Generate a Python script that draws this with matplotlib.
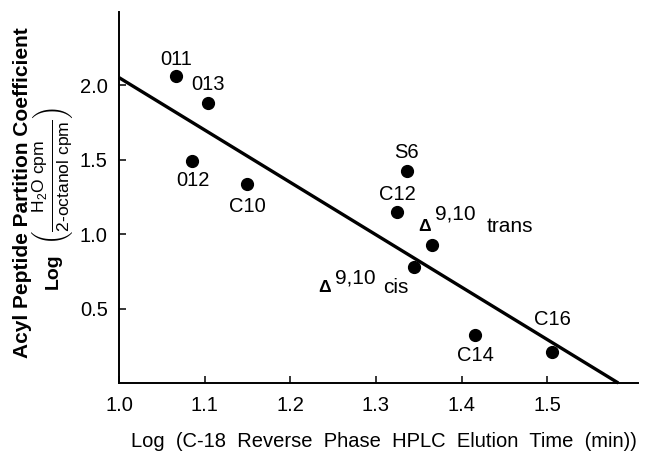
import matplotlib
matplotlib.use("Agg")
import matplotlib.pyplot as plt

# === Data ===
labels = ["011", "013", "012", "C10", "S6", "C12", "trans", "cis", "C14", "C16"]
log_elution = [1.067, 1.104, 1.085, 1.150, 1.336, 1.325, 1.365, 1.344, 1.416, 1.506]
log_partition = [2.060, 1.880, 1.493, 1.336, 1.423, 1.147, 0.928, 0.782, 0.323, 0.206]

fit_x = [1.0, 1.583]
fit_y = [2.05, 0.0]

x_ticks = [1.0, 1.1, 1.2, 1.3, 1.4, 1.5]
y_ticks = [0.5, 1.0, 1.5, 2.0]

# label offsets in pixels (dx, dy) from each point
offsets = {
    "011": (0, 17), "013": (0, 18), "012": (1, -20), "C10": (0, -23),
    "S6": (0, 18), "C12": (0, 18), "C14": (0, -21), "C16": (0, 33),
}
# delta labels: offsets of (delta, "9,10", suffix)
delta_offsets = {
    "trans": [(-7, 18), (24, 31), (78, 18)],
    "cis": [(-89, -21), (-58, -11), (-18, -21)],
}

plt.rcParams["font.family"] = ["Liberation Sans", "DejaVu Sans"]
plt.rcParams["mathtext.fontset"] = "custom"
plt.rcParams["mathtext.rm"] = "Liberation Sans"
plt.rcParams["mathtext.it"] = "Liberation Sans:italic"
plt.rcParams["mathtext.bf"] = "Liberation Sans:bold"

fig = plt.figure(figsize=(6.48, 4.55), dpi=100)
ax = fig.add_axes([0.1836, 0.1582, 0.801, 0.8154])

ax.plot(fit_x, fit_y, color="black", lw=2.4, solid_capstyle="butt", clip_on=False)
ax.plot(log_elution, log_partition, "o", color="black", ms=8.5, clip_on=False)

for name, x, y in zip(labels, log_elution, log_partition):
    if name in offsets:
        ax.annotate(name, (x, y), xytext=offsets[name], textcoords="offset pixels",
                    ha="center", va="center", fontsize=14.5)
    else:
        d_off, n_off, s_off = delta_offsets[name]
        ax.annotate("Δ", (x, y), xytext=d_off, textcoords="offset pixels",
                    ha="center", va="center", fontsize=12.5, fontweight="bold")
        ax.annotate("9,10", (x, y), xytext=n_off, textcoords="offset pixels",
                    ha="center", va="center", fontsize=15)
        ax.annotate(name, (x, y), xytext=s_off, textcoords="offset pixels",
                    ha="center", va="center", fontsize=15)

ax.set_xlim(1.0, 1.606)
ax.set_ylim(0, 2.49)
ax.set_xticks(x_ticks)
ax.set_xticklabels([f"{t:.1f}" for t in x_ticks])
ax.set_yticks(y_ticks)
ax.set_yticklabels([f"{t:.1f}" for t in y_ticks])
ax.tick_params(direction="in", length=5, width=1.1, labelsize=14.5)
ax.tick_params(axis="y", pad=8)
ax.tick_params(axis="x", pad=9)

for s in ["top", "right"]:
    ax.spines[s].set_visible(False)
for s in ["left", "bottom"]:
    ax.spines[s].set_linewidth(1.4)

fig.text(0.593, 0.029, "Log  (C-18  Reverse  Phase  HPLC  Elution  Time  (min))",
         ha="center", va="center", fontsize=14.5)
fig.text(0.034, 1 - 193 / 455, "Acyl Peptide Partition Coefficient", rotation=90,
         ha="center", va="center", fontsize=15, fontweight="bold")
fig.text(0.082, 1 - 271 / 455, "Log", rotation=90,
         ha="center", va="center", fontsize=14, fontweight="bold")
fig.text(0.081, 1 - 176 / 455,
         r"$\left(\frac{\mathrm{H_2O\ cpm}}{\text{2-octanol cpm}}\right)$",
         rotation=90, ha="center", va="center", fontsize=18)

fig.savefig("out.png", dpi=100)
